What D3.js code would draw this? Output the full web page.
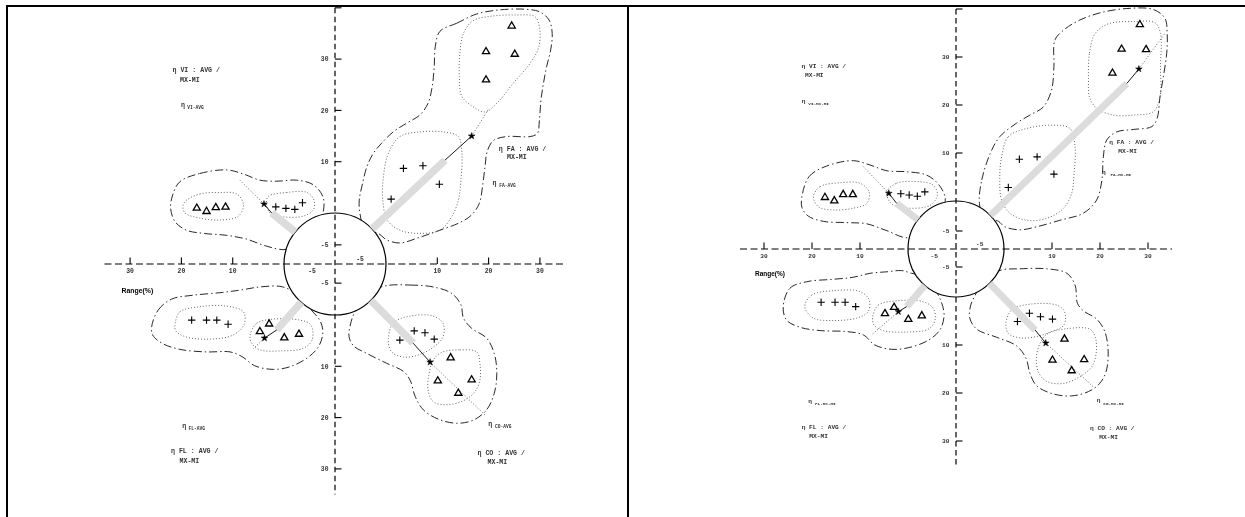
<!DOCTYPE html>
<html>
<head>
<meta charset="utf-8">
<script src="https://cdn.jsdelivr.net/npm/d3@7"></script>
<style>
  html, body { margin: 0; padding: 0; background: #fff; }
  svg { display: block; will-change: transform; }
  text { -webkit-font-smoothing: antialiased; }
</style>
</head>
<body>
<svg id="chart" width="1245" height="517"></svg>
<script>
// ---------------------------------------------------------------
// Range axis (%) : 0 sits on the reference circle, -5 inside it
// ---------------------------------------------------------------
const rangeTicks = [10, 20, 30];
const innerTick = -5;
const axisTopTick = 40;
const quadrants = ["FA", "VI", "FL", "CO"];
const panelModes = ["AVG", "MX-MI"];
const axisLabel = "Range(%)";

// Values are [x-range, y-range] in % measured outward from the circle
// inside each quadrant.  ray = [bar end, star, end of dotted extension]

// ---------- AVG panel ----------
const avgFA_plus = [[3.4, 8.7], [7.2, 9.2], [10.4, 5.6], [1.0, 2.7]];
const avgFA_tri = [[24.5, 36.6], [19.5, 31.6], [25.1, 31.1], [19.5, 26.1]];
const avgFA_ray = [[11.5, 10.3], [16.7, 15.0], [19.9, 20.1]];
const avgFA_outer = [[10.5, 35.4], [13.8, 37.0], [17.7, 38.8], [22.2, 39.6], [27.4, 39.7], [30.0, 39.2], [31.8, 37.6], [32.4, 35.0], [32.1, 31.8], [31.3, 28.5], [30.7, 25.3], [30.2, 22.0], [29.9, 18.1], [29.5, 15.5], [28.1, 14.9], [23.5, 14.9], [20.9, 14.1], [19.7, 11.9], [19.3, 9.0], [18.8, 5.1], [18.2, 1.9], [16.7, -0.3], [14.4, -1.5], [10.5, -2.7], [6.6, -3.8], [2.7, -4.7], [0.1, -4.2], [-1.2, -3.2], [-3.3, -2.5], [-4.1, 0.0], [-4.2, 2.5], [-3.8, 5.1], [-3.0, 9.0], [-2.0, 11.6], [-0.7, 13.6], [1.4, 15.8], [4.0, 17.5], [6.6, 19.1], [8.2, 21.4], [9.0, 24.6], [9.4, 28.5], [9.6, 32.4]];
const avgFA_innerPlus = [[0.45, 11.6], [2.7, 14.9], [6.6, 15.8], [11.2, 15.8], [14.1, 14.9], [14.8, 11.6], [14.6, 6.4], [14.1, 2.5], [12.8, -0.6], [10.5, -2.7], [6.6, -3.2], [2.7, -2.7], [0.25, -1.1], [-0.5, 2.5], [-0.4, 7.1]];
const avgFA_innerTri = [[15.1, 35.0], [17.0, 37.5], [20.9, 38.4], [25.5, 38.6], [29.0, 38.3], [29.9, 36.3], [29.8, 32.4], [28.1, 29.2], [24.8, 25.3], [21.6, 21.4], [19.3, 19.7], [17.0, 20.7], [14.8, 22.7], [14.3, 26.6], [14.4, 31.1]];

const avgVI_plus = [[1.6, 1.2], [-0.3, 0.9], [-1.7, 0.7], [-2.9, 2.0]];
const avgVI_tri = [[17.0, 1.1], [15.1, 0.45], [13.3, 1.2], [11.4, 1.3]];
const avgVI_ray = [[2.4, 0.0], [3.9, 1.75], [8.6, 6.4]];
const avgVI_outer = [[20.3, 6.1], [16.4, 7.7], [11.2, 8.4], [7.9, 7.6], [4.7, 6.4], [1.4, 6.2], [-2.0, 6.4], [-4.6, 5.5], [-6.1, 3.2], [-6.2, 0.6], [-5.6, -1.1], [-3.0, -4.0], [-0.4, -5.7], [3.4, -5.2], [7.3, -4.1], [11.2, -3.5], [15.7, -3.2], [19.0, -2.7], [21.2, -1.4], [22.1, 0.9], [21.7, 3.5]];
const avgVI_innerPlus = [[3.1, 3.2], [-0.4, 4.0], [-3.6, 4.0], [-4.7, 2.5], [-4.6, 0.6], [-3.0, -0.5], [0.1, -0.6], [2.7, 0.0], [3.4, 1.6]];
const avgVI_innerTri = [[19.0, 2.5], [16.4, 3.7], [12.5, 4.0], [9.2, 3.7], [7.9, 1.6], [8.9, -0.5], [12.5, -1.1], [16.4, -0.8], [19.3, 0.0], [19.7, 1.4]];

const avgFL_plus = [[18.0, 1.0], [15.1, 1.0], [13.1, 1.0], [10.9, 1.8]];
const avgFL_tri = [[4.7, 3.1], [2.9, 1.6], [-0.05, 4.3], [-2.35, 3.6]];
const avgFL_ray = [[1.4, 2.9], [3.8, 4.5], [6.0, 6.6]];
const avgFL_outer = [[25.8, 2.3], [24.5, -0.8], [21.9, -2.5], [17.7, -3.1], [12.5, -3.5], [8.6, -3.9], [4.7, -4.4], [0.8, -4.5], [-1.2, -3.9], [-3.2, -3.2], [-4.1, -1.05], [-5.6, 1.0], [-6.1, 3.3], [-5.4, 6.2], [-3.6, 8.4], [-0.9, 10.1], [2.1, 10.6], [5.7, 9.9], [8.2, 8.1], [10.5, 7.2], [15.1, 7.2], [20.3, 6.7], [23.8, 5.5], [25.6, 3.9]];
const avgFL_innerPlus = [[21.2, 1.6], [20.3, -0.5], [16.4, -1.3], [11.2, -1.4], [7.9, -0.5], [7.8, 1.9], [9.9, 3.9], [14.4, 4.7], [19.0, 4.3], [21.1, 3.1]];
const avgFL_innerTri = [[6.6, 3.9], [5.3, 1.6], [2.1, 0.8], [-2.5, 1.0], [-4.2, 1.9], [-4.4, 4.9], [-3.0, 6.5], [0.8, 7.0], [4.7, 6.8], [6.3, 5.5]];

const avgCO_plus = [[2.7, 4.9], [5.5, 3.1], [7.6, 3.45], [9.4, 4.7]];
const avgCO_tri = [[12.6, 8.2], [10.1, 12.7], [16.7, 12.5], [14.1, 15.1]];
const avgCO_ray = [[5.3, 5.5], [8.6, 9.2], [19.3, 19.5]];
const avgCO_outer = [[-0.2, -4.55], [4.7, -4.7], [9.2, -4.4], [12.8, -3.4], [14.6, -1.6], [15.1, 0.6], [16.7, 2.6], [19.6, 4.5], [21.1, 7.5], [21.6, 11.4], [21.1, 15.3], [19.6, 18.5], [17.0, 20.5], [13.8, 21.1], [10.2, 20.3], [7.3, 18.5], [5.7, 15.9], [4.7, 12.7], [3.4, 11.0], [0.1, 9.4], [-3.0, 7.5], [-5.1, 6.0], [-5.8, 4.2], [-5.6, 1.95], [-4.9, -0.5], [-3.2, -3.2]];
const avgCO_innerPlus = [[0.45, 4.9], [1.4, 1.6], [4.7, 0.2], [9.2, 0.2], [11.1, 1.6], [11.1, 4.3], [9.2, 6.3], [6.3, 7.8], [3.4, 8.2], [1.1, 7.2]];
const avgCO_innerTri = [[10.8, 7.3], [14.4, 6.8], [17.7, 7.2], [18.3, 9.4], [18.3, 12.7], [17.3, 15.0], [15.1, 16.7], [11.8, 17.5], [9.2, 16.9], [8.2, 14.6], [8.4, 11.4], [9.2, 8.8]];

// ---------- MX-MI panel ----------
const mxFA_plus = [[3.2, 8.7], [6.9, 9.2], [10.4, 5.6], [0.9, 2.8]];
const mxFA_tri = [[28.3, 36.9], [24.5, 31.8], [29.6, 31.7], [22.6, 26.8]];
const mxFA_ray = [[25.6, 24.5], [28.1, 27.5], [33.5, 34.9]];
const mxFA_outer = [[-4.1, -0.4], [-3.7, 4.4], [-2.3, 9.9], [-0.7, 13.4], [2.6, 16.2], [5.4, 17.9], [8.2, 19.6], [9.9, 23.1], [10.4, 28.0], [10.6, 33.5], [12.4, 35.6], [15.8, 37.7], [20.0, 39.2], [25.6, 40.1], [31.1, 39.9], [33.5, 38.1], [34.0, 34.9], [33.9, 30.8], [33.2, 25.9], [32.5, 21.7], [31.9, 17.2], [30.8, 15.5], [26.9, 14.9], [23.5, 14.4], [21.4, 12.7], [20.7, 9.2], [20.4, 4.4], [19.3, 0.2], [16.5, -2.05], [11.7, -3.2], [6.8, -4.3], [3.3, -4.8], [0.2, -4.3], [-1.1, -3.3], [-3.2, -3.2]];
const mxFA_innerPlus = [[-0.4, 9.2], [0.9, 13.4], [4.7, 15.1], [10.3, 15.8], [13.75, 15.1], [14.8, 11.3], [14.6, 5.8], [14.1, 1.6], [12.4, -1.2], [8.9, -2.9], [4.7, -3.2], [1.25, -2.05], [-0.4, 0.2], [-0.7, 5.1]];
const mxFA_innerTri = [[17.6, 25.2], [17.8, 30.8], [19.0, 34.9], [21.7, 36.9], [26.9, 37.4], [31.5, 37.1], [32.6, 34.9], [32.6, 28.0], [32.5, 21.7], [31.1, 18.6], [26.9, 17.9], [22.8, 17.9], [19.3, 19.3], [17.8, 21.7]];

const mxVI_plus = [[1.5, 1.5], [-0.2, 1.25], [-1.55, 1.0], [-2.8, 1.9]];
const mxVI_tri = [[17.3, 0.9], [15.35, 0.2], [13.5, 1.5], [11.5, 1.5]];
const mxVI_ray = [[2.35, -0.4], [4.0, 1.6], [9.3, 7.15]];
const mxVI_outer = [[22.1, 0.9], [20.6, 5.1], [16.9, 7.3], [11.4, 8.4], [7.9, 7.5], [4.4, 6.3], [0.3, 6.1], [-3.1, 5.4], [-5.2, 3.3], [-6.2, 0.6], [-5.8, -1.2], [-3.0, -4.0], [-0.05, -6.1], [4.4, -4.95], [8.6, -3.8], [12.8, -3.6], [17.6, -3.4], [20.8, -2.5], [22.1, -1.05]];
const mxVI_innerPlus = [[4.4, 1.9], [2.35, 3.7], [-2.0, 4.0], [-4.2, 3.3], [-4.9, 1.25], [-3.7, -0.7], [-0.3, -1.2], [3.4, -0.5]];
const mxVI_innerTri = [[19.7, 0.9], [18.3, 3.0], [14.2, 3.8], [10.0, 3.7], [8.1, 1.9], [8.6, -0.4], [11.4, -1.2], [15.6, -1.5], [18.7, -0.95]];

const mxFL_plus = [[18.1, 1.1], [15.2, 1.1], [13.1, 1.1], [10.9, 2.0]];
const mxFL_tri = [[4.8, 3.3], [2.9, 2.0], [-0.05, 4.5], [-2.3, 3.75]];
const mxFL_ray = [[0.27, 2.0], [2.0, 3.06], [7.6, 7.9]];
const mxFL_outer = [[26.0, 2.0], [24.6, -1.45], [21.1, -2.55], [15.6, -2.95], [11.4, -3.3], [7.9, -3.95], [4.4, -4.2], [1.3, -4.4], [-0.6, -3.95], [-3.2, -3.2], [-5.05, -0.3], [-5.8, 2.0], [-6.0, 4.1], [-5.3, 6.9], [-3.4, 9.0], [-0.3, 10.5], [3.4, 10.9], [6.9, 10.0], [9.3, 7.9], [12.8, 7.2], [18.3, 7.0], [22.5, 6.3], [25.3, 4.8]];
const mxFL_innerPlus = [[21.5, 2.0], [20.1, -0.3], [15.6, -1.05], [10.0, -0.9], [8.1, 0.6], [8.3, 3.06], [10.7, 4.4], [15.6, 4.9], [19.7, 4.4]];
const mxFL_innerTri = [[7.35, 4.1], [6.2, 1.7], [2.35, 0.8], [-2.55, 1.0], [-4.2, 2.35], [-4.5, 4.8], [-3.4, 6.7], [0.27, 7.3], [5.1, 7.0], [7.1, 5.8]];

const mxCO_plus = [[2.8, 5.1], [5.3, 3.4], [7.6, 4.1], [10.1, 4.6]];
const mxCO_tri = [[12.6, 8.6], [10.1, 13.0], [16.7, 12.9], [14.1, 15.2]];
const mxCO_ray = [[6.5, 6.9], [8.7, 9.6], [18.6, 18.7]];
const mxCO_outer = [[-0.4, -4.5], [3.3, -4.7], [8.9, -4.7], [13.1, -3.95], [14.8, -2.0], [15.3, 1.3], [16.5, 2.85], [19.3, 4.6], [21.0, 7.2], [21.7, 11.4], [21.25, 15.6], [19.85, 18.1], [17.6, 19.7], [14.1, 20.6], [10.3, 20.2], [6.8, 18.5], [5.4, 15.9], [4.6, 12.8], [2.65, 10.2], [-1.2, 8.4], [-4.55, 6.7], [-5.7, 4.4], [-5.55, 1.7], [-4.8, -0.3], [-3.2, -3.2]];
const mxCO_innerPlus = [[0.4, 5.5], [1.6, 2.7], [5.4, 1.5], [11.0, 1.7], [12.6, 3.06], [12.5, 5.8], [9.9, 7.2], [6.5, 8.3], [3.3, 8.5], [0.9, 7.6]];
const mxCO_innerTri = [[9.2, 7.6], [13.1, 6.6], [17.9, 6.7], [19.0, 8.3], [19.2, 11.7], [18.3, 14.5], [15.8, 16.6], [12.4, 18.0], [8.9, 17.6], [7.15, 15.6], [6.8, 12.1], [7.85, 9.0]];

// ---------------------------------------------------------------
// Layout
// ---------------------------------------------------------------
const W = 1245, H = 517;
const svg = d3.select("#chart");

// quadrant orientation (x to the right, y upwards)
const quadSign = { FA: [1, 1], VI: [-1, 1], FL: [-1, -1], CO: [1, -1] };

const panels = [
  {
    mode: panelModes[0], cx: 335, cy: 264, r: 51, s: 5.13,
    mainFont: 6.6, subFont: 4.6, tickFont: 6.4, barWidth: 7.5,
    rangeLabel: [121.5, 292.5, 6.9],
    labels: {
      VI: { main: [172.5, 71.8], main2: [180, 81.5], eta: [181, 106.5], sub: [187.3, 109] },
      FA: { main: [498.8, 150.8], main2: [507, 159.2], eta: [492.5, 185], sub: [499.3, 187] },
      FL: { main: [171, 453], main2: [179.5, 462.5], eta: [182.3, 427.5], sub: [188.5, 429.5] },
      CO: { main: [477.5, 454.5], main2: [487.5, 463.5], eta: [488.3, 425.8], sub: [495, 428] }
    },
    clusters: {
      FA: { plus: avgFA_plus, tri: avgFA_tri, ray: avgFA_ray, outer: avgFA_outer, inner: [avgFA_innerPlus, avgFA_innerTri] },
      VI: { plus: avgVI_plus, tri: avgVI_tri, ray: avgVI_ray, outer: avgVI_outer, inner: [avgVI_innerPlus, avgVI_innerTri] },
      FL: { plus: avgFL_plus, tri: avgFL_tri, ray: avgFL_ray, outer: avgFL_outer, inner: [avgFL_innerPlus, avgFL_innerTri] },
      CO: { plus: avgCO_plus, tri: avgCO_tri, ray: avgCO_ray, outer: avgCO_outer, inner: [avgCO_innerPlus, avgCO_innerTri] }
    }
  },
  {
    mode: panelModes[1], cx: 956, cy: 249, r: 48, s: 4.8,
    mainFont: 6.2, subFont: 4.3, tickFont: 6.2, barWidth: 7,
    rangeLabel: [755, 275.8, 6.5],
    labels: {
      VI: { main: [801.5, 67.8], main2: [805, 76.5], eta: [801.7, 102.5], sub: [808.3, 104.5] },
      FA: { main: [1109.3, 144], main2: [1118.3, 153], eta: [1102, 174], sub: [1110.5, 176] },
      FL: { main: [801.7, 428.5], main2: [809.3, 437.5], eta: [808.3, 403], sub: [815, 405] },
      CO: { main: [1090, 430], main2: [1099.3, 438.5], eta: [1096.7, 402], sub: [1103.3, 404.5] }
    },
    clusters: {
      FA: { plus: mxFA_plus, tri: mxFA_tri, ray: mxFA_ray, outer: mxFA_outer, inner: [mxFA_innerPlus, mxFA_innerTri] },
      VI: { plus: mxVI_plus, tri: mxVI_tri, ray: mxVI_ray, outer: mxVI_outer, inner: [mxVI_innerPlus, mxVI_innerTri] },
      FL: { plus: mxFL_plus, tri: mxFL_tri, ray: mxFL_ray, outer: mxFL_outer, inner: [mxFL_innerPlus, mxFL_innerTri] },
      CO: { plus: mxCO_plus, tri: mxCO_tri, ray: mxCO_ray, outer: mxCO_outer, inner: [mxCO_innerPlus, mxCO_innerTri] }
    }
  }
];

const monoFont = "'Liberation Mono', 'DejaVu Sans Mono', monospace";
const textGray = "#333";

// ---------------------------------------------------------------
// Frame
// ---------------------------------------------------------------
const frame = svg.append("g").attr("stroke", "#000").attr("stroke-width", 2).attr("fill", "none");
frame.append("line").attr("x1", 6).attr("x2", W).attr("y1", 6).attr("y2", 6);
frame.append("line").attr("x1", 7).attr("x2", 7).attr("y1", 5).attr("y2", H);
frame.append("line").attr("x1", 628).attr("x2", 628).attr("y1", 5).attr("y2", H);

// ---------------------------------------------------------------
// Panel renderer
// ---------------------------------------------------------------
function drawPanel(P) {
  const g = svg.append("g");
  // distance from the centre for a range value (circle = 0 %)
  const rng = d3.scaleLinear().domain([-8, 0, 40]).range([0, P.r, P.r + 40 * P.s]);
  const X = (u, sx) => P.cx + sx * rng(u);
  const Y = (v, sy) => P.cy - sy * rng(v);
  const toXY = (q) => (d) => [X(d[0], quadSign[q][0]), Y(d[1], quadSign[q][1])];
  const closed = d3.line().curve(d3.curveCatmullRomClosed.alpha(0.5));

  // envelopes
  quadrants.forEach(q => {
    const c = P.clusters[q];
    const pt = toXY(q);
    g.append("path")
      .attr("d", closed(c.outer.map(pt)))
      .attr("fill", "none").attr("stroke", "#111").attr("stroke-width", 0.9)
      .attr("stroke-dasharray", "8,3,1.4,3");
    c.inner.forEach(region => {
      g.append("path")
        .attr("d", closed(region.map(pt)))
        .attr("fill", "none").attr("stroke", "#555").attr("stroke-width", 0.9)
        .attr("stroke-dasharray", "1,2");
    });
  });

  // reference circle
  g.append("circle")
    .attr("cx", P.cx).attr("cy", P.cy).attr("r", rng(0))
    .attr("fill", "#fff").attr("stroke", "#000").attr("stroke-width", 1.2);

  // gray bars from the circle along each ray
  quadrants.forEach(q => {
    const c = P.clusters[q];
    const [bx, by] = toXY(q)(c.ray[0]);
    const a = Math.atan2(by - P.cy, bx - P.cx);
    g.append("line")
      .attr("x1", P.cx + rng(0) * Math.cos(a)).attr("y1", P.cy + rng(0) * Math.sin(a))
      .attr("x2", bx).attr("y2", by)
      .attr("stroke", "#dcdcdc").attr("stroke-width", P.barWidth);
  });

  // axes
  const axes = g.append("g").attr("stroke", "#000").attr("stroke-width", 1.2).attr("fill", "none");
  axes.append("line")
    .attr("x1", X(35, -1)).attr("x2", X(35, 1)).attr("y1", P.cy).attr("y2", P.cy)
    .attr("stroke-dasharray", "7,3.5");
  axes.append("line")
    .attr("x1", P.cx).attr("x2", P.cx).attr("y1", Y(axisTopTick, 1)).attr("y2", Y(35, -1))
    .attr("stroke-dasharray", "5.5,3.5");

  const tickLen = 6.5;
  const ticks = g.append("g");
  const tickText = (x, y, anchor, v) => ticks.append("text").attr("x", x).attr("y", y)
    .attr("text-anchor", anchor).attr("font-family", monoFont).attr("font-weight", "bold")
    .attr("font-size", P.tickFont).attr("fill", textGray).text(v);
  const vTicks = [];
  rangeTicks.forEach(t => { vTicks.push({ v: t, sy: 1, label: true }); vTicks.push({ v: t, sy: -1, label: true }); });
  vTicks.push({ v: innerTick, sy: 1, label: true }, { v: innerTick, sy: -1, label: true });
  vTicks.push({ v: axisTopTick, sy: 1, label: false });
  vTicks.forEach(t => {
    const y = Y(t.v, t.sy);
    ticks.append("line").attr("x1", P.cx).attr("x2", P.cx + tickLen).attr("y1", y).attr("y2", y)
      .attr("stroke", "#000").attr("stroke-width", 1.1);
    if (t.label) tickText(P.cx - 6.5, y + 2.3, "end", t.v);
  });
  rangeTicks.forEach(t => {
    [-1, 1].forEach(sx => {
      const x = X(t, sx);
      ticks.append("line").attr("x1", x).attr("x2", x).attr("y1", P.cy).attr("y2", P.cy - tickLen)
        .attr("stroke", "#000").attr("stroke-width", 1.1);
      tickText(x, P.cy + 8.5, "middle", t);
    });
  });
  // inner (-5) labels on the horizontal axis
  tickText(X(innerTick, -1), P.cy + 8.5, "end", innerTick);
  tickText(X(innerTick, 1) + 2, P.cy - 3, "start", innerTick);

  // axis title
  g.append("text").attr("x", P.rangeLabel[0]).attr("y", P.rangeLabel[1])
    .attr("font-family", "'Liberation Sans', Arial, sans-serif").attr("font-weight", "bold")
    .attr("font-size", P.rangeLabel[2]).attr("fill", "#000").text(axisLabel);

  // rays, markers
  const plusPath = "M-3.7,0H3.7M0,-3.7V3.7";
  const triPath = "M0,-3.4L3.6,2.8L-3.6,2.8Z";
  const star = d3.symbol().type(d3.symbolStar).size(14);
  quadrants.forEach(q => {
    const c = P.clusters[q];
    const pt = toXY(q);
    const [b, s, e] = c.ray.map(pt);
    g.append("line").attr("x1", s[0]).attr("y1", s[1]).attr("x2", e[0]).attr("y2", e[1])
      .attr("stroke", "#555").attr("stroke-width", 0.9).attr("stroke-dasharray", "1,2");
    g.append("line").attr("x1", b[0]).attr("y1", b[1]).attr("x2", s[0]).attr("y2", s[1])
      .attr("stroke", "#000").attr("stroke-width", 0.9);
    g.append("path").attr("d", star()).attr("transform", `translate(${s[0]},${s[1]})`)
      .attr("fill", "#000").attr("stroke", "#000").attr("stroke-width", 0.5);

    g.selectAll(null).data(c.plus.map(pt)).join("path")
      .attr("d", plusPath).attr("transform", d => `translate(${d[0]},${d[1]})`)
      .attr("stroke", "#000").attr("stroke-width", 1.1).attr("fill", "none");
    g.selectAll(null).data(c.tri.map(pt)).join("path")
      .attr("d", triPath).attr("transform", d => `translate(${d[0]},${d[1]})`)
      .attr("stroke", "#000").attr("stroke-width", 1.3).attr("fill", "none");

    // cluster labels
    const L = P.labels[q];
    const txt = (x, y, size, s) => g.append("text").attr("x", x).attr("y", y)
      .attr("font-family", monoFont).attr("font-weight", "bold")
      .attr("font-size", size).attr("fill", textGray)
      .attr("xml:space", "preserve").style("white-space", "pre").text(s);
    txt(L.main[0], L.main[1], P.mainFont, `η ${q} : AVG /`);
    txt(L.main2[0], L.main2[1], P.mainFont, "MX-MI");
    txt(L.eta[0], L.eta[1], P.mainFont, "η");
    txt(L.sub[0], L.sub[1], P.subFont, `${q}-${P.mode}`);
  });
}

panels.forEach(drawPanel);
</script>
</body>
</html>
